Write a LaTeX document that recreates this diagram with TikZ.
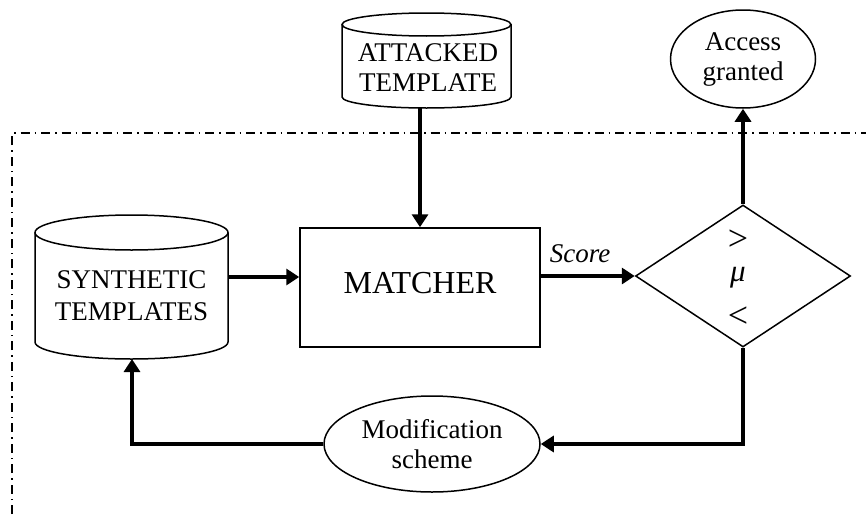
\documentclass[tikz,border=0pt]{standalone}
\usepackage{fontspec}
\setmainfont{Liberation Serif}
\usetikzlibrary{shapes.geometric,arrows.meta}
\begin{document}
\begin{tikzpicture}[x=1pt,y=-1pt,
  outline/.style={draw, line width=1.5pt},
  flow/.style={line width=4.5pt, -{Triangle[length=13pt,width=16pt]}},
  lbl/.style={font=\fontsize{27}{30}\selectfont, align=center, inner sep=0pt},
  border/.style={line width=1.5pt, dash pattern=on 9pt off 5pt on 1.5pt off 5pt},
]
\useasboundingbox (0,0) rectangle (866,514);

% system boundary (dash-dot), open to the right and bottom
\draw[border] (12,514) -- (12,133) -- (866,133);

% attacked template store
\draw[outline] (342,24.5) -- (342,97)
  arc[start angle=180,end angle=360,x radius=84.5pt,y radius=11pt] -- (511,24.5);
\draw[outline] (426.5,24.5) ellipse[x radius=84.5pt,y radius=11.5pt];
\node[lbl] (attacked) at (428,67.5) {ATTACKED\\TEMPLATE};
\coordinate (atkbot) at (420,108);

% synthetic template store
\draw[outline] (35,232.5) -- (35,342)
  arc[start angle=180,end angle=360,x radius=96.5pt,y radius=17pt] -- (228,232.5);
\draw[outline] (131.5,232.5) ellipse[x radius=96.5pt,y radius=17.5pt];
\node[lbl, font=\fontsize{27}{32}\selectfont] (synth) at (131.5,296) {SYNTHETIC\\TEMPLATES};
\coordinate (synright) at (228,277);
\coordinate (synbot) at (132,359);

% matcher
\node[outline, minimum width=240pt, minimum height=119pt,
      font=\fontsize{32}{36}\selectfont, text depth=10pt] (matcher) at (420,287.5) {MATCHER};

% threshold decision
\node[outline, diamond, minimum width=215pt, minimum height=142pt, inner sep=0pt] (dec) at (743,276) {};
\node[font=\fontsize{36}{36}\selectfont, inner sep=0pt] (gt) at (738,240) {>};
\node[font=\fontsize{31}{31}\selectfont\itshape, inner sep=0pt] (mu) at (738,278) {μ};
\node[font=\fontsize{36}{36}\selectfont, inner sep=0pt] (lt) at (738,317) {<};

% outcomes
\node[outline, ellipse, minimum width=145pt, minimum height=98pt, lbl] (acc) at (743,59) {Access\\granted};
\node[outline, ellipse, minimum width=216pt, minimum height=96pt, lbl] (mod) at (432,444) {Modification\\scheme};

\node[font=\fontsize{27}{30}\selectfont\itshape, inner sep=0pt] (score) at (580,254) {Score};

% connectors
\draw[flow] (atkbot) -- (atkbot |- matcher.north);
\draw[flow] (synright) -- (synright -| matcher.west);
\draw[flow] (matcher.east |- dec.west) -- (dec.west);
\draw[flow] (dec.north) -- (acc.south);
\draw[flow] (dec.south) |- (mod.east);
\draw[flow] (mod.west) -| (synbot);
\end{tikzpicture}
\end{document}
